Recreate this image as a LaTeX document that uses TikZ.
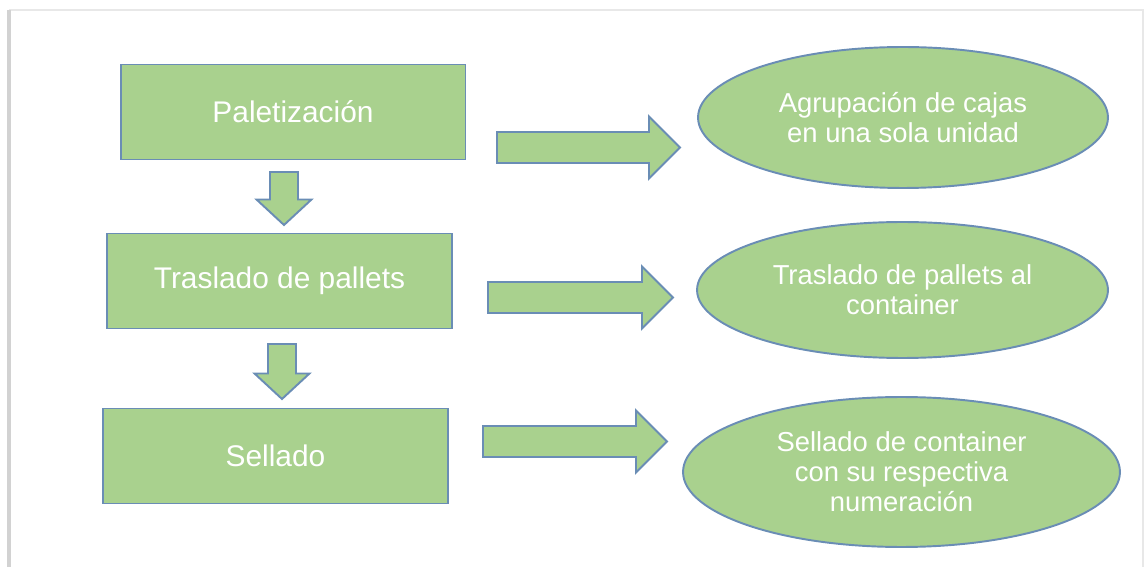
\documentclass[tikz,border=0pt]{standalone}
\usepackage{fontspec}
\setmainfont{Liberation Sans}
\usepackage{tikz}
\usetikzlibrary{positioning,calc,shapes.geometric}
\definecolor{boxgreen}{HTML}{A9D18E}
\definecolor{edgeblue}{HTML}{6A8DB5}
\tikzstyle{proc} = [draw=edgeblue,fill=boxgreen,line width=1.1pt,text=white,minimum width=6.9cm,minimum height=1.9cm,inner sep=0pt,font=\fontsize{17}{20}\selectfont]
\tikzstyle{result} = [ellipse,draw=edgeblue,fill=boxgreen,line width=1.1pt,text=white,inner sep=0pt,align=center,font=\fontsize{15.6}{17}\selectfont]
\tikzset{blockarr/.style n args={3}{draw=edgeblue,fill=boxgreen,line width=1.1pt,line join=miter,
    to path={let \p1=(\tikztostart), \p2=(\tikztotarget), \n1={atan2(\y2-\y1,\x2-\x1)},
      \n2={\n1+90}, \n3={\n1-90}, \n4={\n1+180} in
      ($(\p1)+(\n2:#1)$) -- ($(\p2)+(\n4:#3)+(\n2:#1)$) -- ($(\p2)+(\n4:#3)+(\n2:#2)$) -- (\p2)
      -- ($(\p2)+(\n4:#3)+(\n3:#2)$) -- ($(\p2)+(\n4:#3)+(\n3:#1)$) -- ($(\p1)+(\n3:#1)$) -- cycle}}}
\tikzstyle{rarrow} = [blockarr={0.31cm}{0.62cm}{0.62cm}]
\tikzstyle{darrow} = [blockarr={0.28cm}{0.55cm}{0.51cm}]

\begin{document}
\begin{tikzpicture}[x=0.02cm,y=-0.02cm]
           \useasboundingbox (0,0) rectangle (1146,567);
           \draw[gray!18,line width=1.2pt] (9,10) -- (1143,10) -- (1143,567);
           \draw[gray!35,line width=2pt] (9,10) -- (9,567);
           \node[proc] (palet) at (293,112) {Paletización};
           \node[proc] (trasl) at (279.5,281) {Traslado de pallets};
           \node[proc] (sell) at (275.5,456) {Sellado};
           \node[result,minimum width=8.2cm,minimum height=2.82cm] (agrup) at (903,117.5) {Agrupación de cajas\\en una sola unidad};
           \node[result,minimum width=8.22cm,minimum height=2.72cm] (tcont) at (902.5,290) {Traslado de pallets al\\container};
           \node[result,minimum width=8.74cm,minimum height=3cm] (scont) at (901.5,472) {Sellado de container\\con su respectiva\\numeración};
           \coordinate (d1s) at (284,172);
           \coordinate (d1e) at (284,225);
           \coordinate (d2s) at (282,344);
           \coordinate (d2e) at (282,399);
           \coordinate (r1s) at (497,147.5);
           \coordinate (r1e) at (680,147.5);
           \coordinate (r2s) at (488,297.5);
           \coordinate (r2e) at (673,297.5);
           \coordinate (r3s) at (483,441.5);
           \coordinate (r3e) at (667,441.5);
           \draw[darrow] (d1s) to (d1e);
           \draw[darrow] (d2s) to (d2e);
           \draw[rarrow] (r1s) to (r1e);
           \draw[rarrow] (r2s) to (r2e);
           \draw[rarrow] (r3s) to (r3e);
        \end{tikzpicture}
\end{document}
